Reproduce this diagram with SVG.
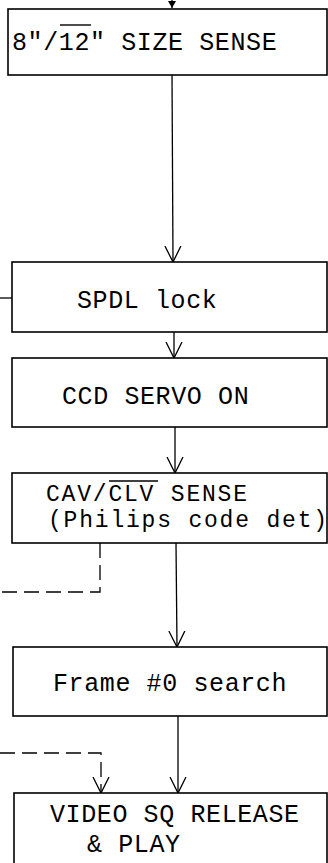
<svg xmlns="http://www.w3.org/2000/svg" width="328" height="863" viewBox="0 0 328 863">
  <style>
    .box { fill: #fff; stroke: #000; stroke-width: 1.6; }
    .lbl { font-family: "Liberation Mono", "DejaVu Sans Mono", monospace; font-size: 25px; letter-spacing: 0.6px; fill: #000; }
    .lbl.tight { font-size: 23px; letter-spacing: 1.8px; }
    .wire { fill: none; stroke: #000; stroke-width: 1.3; }
    .dash { fill: none; stroke: #000; stroke-width: 1.3; stroke-dasharray: 15 7; }
    .bar { stroke: #000; stroke-width: 1.4; }
  </style>
  <defs>
    <!-- open V arrowhead, tip at the end of the line -->
    <marker id="vee" markerWidth="20" markerHeight="20" refX="16" refY="9" orient="auto" markerUnits="userSpaceOnUse" viewBox="0 0 20 20">
      <path d="M0,1 L16,9 L0,17" fill="none" stroke="#000" stroke-width="1.3"/>
    </marker>
  </defs>
  <rect width="328" height="863" fill="#fff"/>

  <g id="connectors">
    <!-- incoming arrow at the top -->
    <line x1="172" y1="0" x2="172" y2="8" class="wire"/>
    <path d="M168,1 L176,1 L172,8 Z" fill="#000"/>
    <line x1="172" y1="75" x2="173" y2="262" class="wire" marker-end="url(#vee)"/>
    <line x1="0" y1="298" x2="12" y2="298" class="wire"/>
    <line x1="174" y1="332" x2="174" y2="358" class="wire" marker-end="url(#vee)"/>
    <line x1="175" y1="427" x2="175" y2="473" class="wire" marker-end="url(#vee)"/>
    <line x1="176" y1="543" x2="177" y2="647" class="wire" marker-end="url(#vee)"/>
    <line x1="178" y1="716" x2="178" y2="793" class="wire" marker-end="url(#vee)"/>
    <!-- dashed branch out of the CAV/CLV sense -->
    <path d="M100,543 L100,592 L0,592" class="dash"/>
    <!-- dashed branch into video release -->
    <path d="M0,753 L101,753 L101,793" class="dash" marker-end="url(#vee)"/>
  </g>

  <g id="size-sense">
    <rect x="8" y="9" width="319" height="66" class="box"/>
    <text x="12" y="50" class="lbl">8"/12" SIZE SENSE</text>
    <line x1="60" y1="25" x2="91" y2="25" class="bar"/>
  </g>

  <g id="spdl-lock">
    <rect x="12" y="262" width="315" height="70" class="box"/>
    <text x="77" y="308" class="lbl">SPDL lock</text>
  </g>

  <g id="ccd-servo">
    <rect x="12" y="358" width="315" height="69" class="box"/>
    <text x="62" y="404" class="lbl">CCD SERVO ON</text>
  </g>

  <g id="cav-clv-sense">
    <rect x="12" y="473" width="315" height="70" class="box"/>
    <text x="46" y="501" class="lbl tight">CAV/CLV SENSE</text>
    <line x1="109" y1="481" x2="158" y2="481" class="bar"/>
    <text x="48" y="527" class="lbl tight">(Philips code det)</text>
  </g>

  <g id="frame-search">
    <rect x="13" y="647" width="314" height="69" class="box"/>
    <text x="53" y="691" class="lbl">Frame #0 search</text>
  </g>

  <g id="video-release">
    <rect x="14" y="793" width="313" height="80" class="box"/>
    <text x="50" y="822" class="lbl">VIDEO SQ RELEASE</text>
    <text x="87" y="852" class="lbl">&amp; PLAY</text>
  </g>
</svg>
